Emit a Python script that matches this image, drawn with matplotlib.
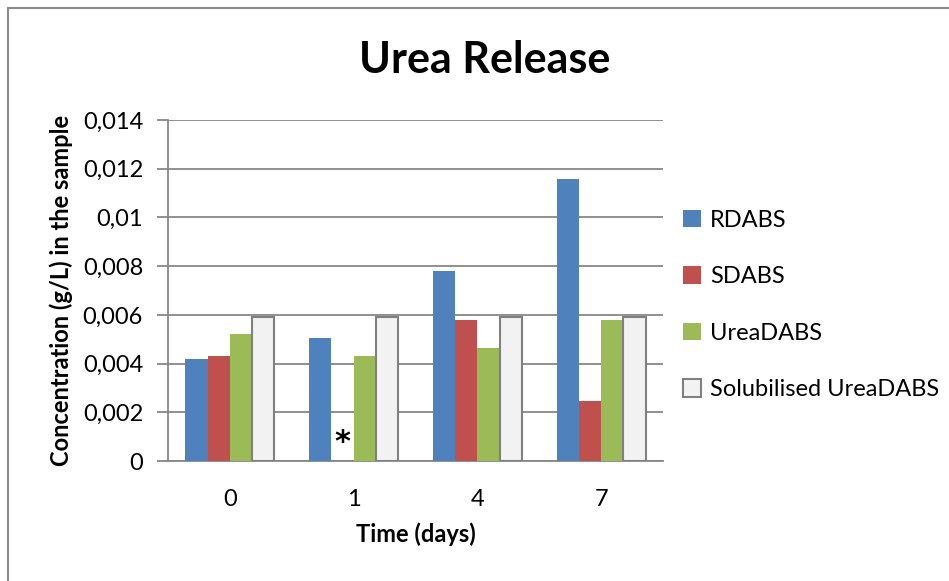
import matplotlib.pyplot as plt
import numpy as np
from matplotlib.patches import Rectangle
from matplotlib.ticker import FuncFormatter

plt.rcParams['font.family'] = ['Lato', 'DejaVu Sans']

# Data
days = ['0', '1', '4', '7']
series = ['RDABS', 'SDABS', 'UreaDABS', 'Solubilised UreaDABS']
rdabs = [0.00419, 0.00505, 0.00780, 0.01158]
sdabs = [0.00433, 0.0, 0.00578, 0.00245]
ureadabs = [0.00521, 0.00433, 0.00463, 0.00578]
solubilised = [0.00592, 0.00592, 0.00592, 0.00592]
yticks = np.arange(0, 0.0141, 0.002)

colors = ['#4F81BD', '#C0504D', '#9BBB59', '#F2F2F2']
edges = ['none', 'none', 'none', '#808080']


def fmt(v, pos):
    if abs(v) < 1e-12:
        return '0'
    return f'{v:.3f}'.rstrip('0').replace('.', ',')


fig = plt.figure(figsize=(9.49, 5.81), dpi=100)
ax = fig.add_axes([168/949, 1 - 461/581, 495/949, 341/581])

# frame around the chart (only top/left visible in the original)
fig.patches.append(Rectangle((8/949, -0.1), 1.2, 1 - 8/581 + 0.1, transform=fig.transFigure,
                             fill=False, edgecolor='#8c8c8c', lw=1.5, zorder=0))

x = np.arange(len(days))
w = 0.18
data = [rdabs, sdabs, ureadabs, solubilised]
handles = []
for k, vals in enumerate(data):
    b = ax.bar(x + (k - 1.5) * w, vals, w, color=colors[k], edgecolor=edges[k],
               linewidth=1.5 if k == 3 else 0, label=series[k], zorder=3)
    handles.append(b)

# missing SDABS value at day 1
ax.text(x[1] - 0.5 * w, 0.00015, '*', ha='center', va='bottom', fontsize=22,
        fontweight='bold', color='black', zorder=4, family='DejaVu Sans')

ax.set_xlim(-0.5, 3.5)
ax.set_ylim(0, 0.014)
ax.set_yticks(yticks)
ax.yaxis.set_major_formatter(FuncFormatter(fmt))
ax.set_xticks(x)
ax.set_xticklabels(days)

ax.grid(axis='y', color='#878787', lw=1.3, zorder=0)
ax.set_axisbelow(True)
for s in ['top', 'right']:
    ax.spines[s].set_visible(False)
ax.spines['left'].set_color('#878787')
ax.spines['bottom'].set_color('#878787')
ax.spines['left'].set_linewidth(1.3)
ax.spines['bottom'].set_linewidth(1.3)
ax.tick_params(axis='y', length=8, width=1.3, color='#878787', labelsize=17, pad=10)
ax.tick_params(axis='x', length=0, labelsize=17, pad=20)

ax.set_xlabel('Time (days)', fontsize=17, fontweight='bold', labelpad=9)
ax.set_ylabel('Concentration (g/L) in the sample', fontsize=17, fontweight='bold', labelpad=7)
fig.text(485/949, 1 - 60/581, 'Urea Release', ha='center', va='center',
         fontsize=31, fontweight='bold')

leg = fig.legend(handles=handles, labels=series, loc='center left',
                 bbox_to_anchor=(683/949, 1 - 305/581), frameon=False, borderpad=0,
                 borderaxespad=0, fontsize=17, handlelength=0.75, handleheight=0.75,
                 handletextpad=0.4, labelspacing=1.5)

plt.savefig('out.png', dpi=100)
